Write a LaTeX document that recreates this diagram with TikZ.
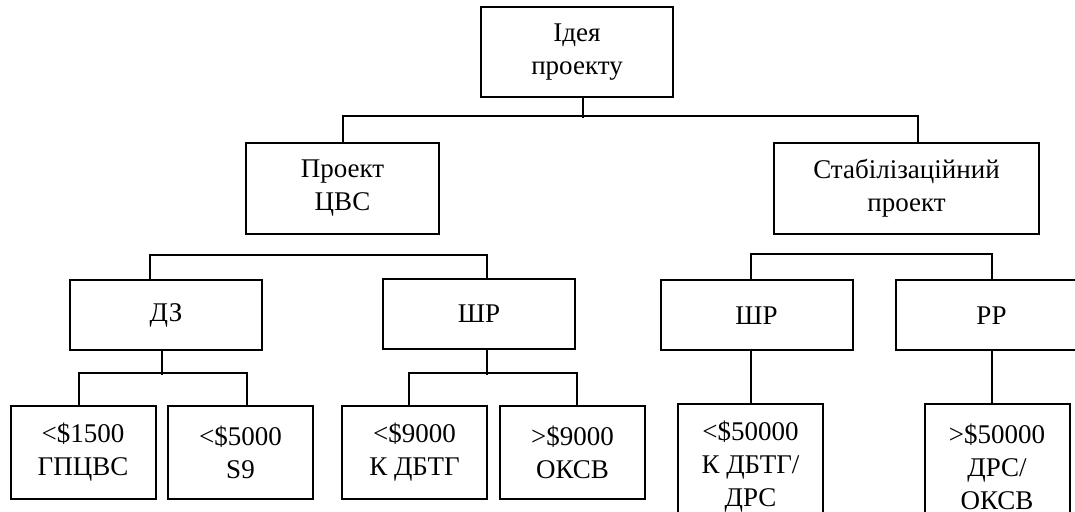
\documentclass[tikz,border=0pt]{standalone}
\usepackage{fontspec}
\setmainfont{Liberation Serif}
\begin{document}
\begin{tikzpicture}[x=0.5pt, y=-0.5pt, line width=1pt,
    box/.style={draw, rectangle, align=center, inner sep=0pt,
      font=\fontsize{13.5}{16.5}\selectfont},
    mid/.style={box, minimum width=96pt, minimum height=35pt},
    leaf/.style={box, minimum width=72.5pt, minimum height=46.5pt}]
  \useasboundingbox (0,0) rectangle (1075,512);

  % Idea
  \node[box, minimum width=96pt, minimum height=45pt] (idea) at (577,52) {Ідея\\проекту};

  % Projects
  \node[box, minimum width=96.5pt, minimum height=45.5pt] (cvs) at (342.5,188.5) {Проект\\ЦВС};
  \node[box, minimum width=132.5pt, minimum height=45.5pt] (stab) at (906.5,188.5) {Стабілізаційний\\проект};

  % Second level
  \node[mid] (dz) at (166,315) {ДЗ};
  \node[mid] (shr1) at (479,314) {ШР};
  \node[mid] (shr2) at (756.5,315.5) {ШР};
  \node[mid] (pp) at (991.5,315.5) {РР};

  % Leaves
  \foreach \n/\x/\txt in {l1/83/{<\$1500\\ГПЦВС}, l2/240.5/{<\$5000\\S9},
      l3/414.5/{<\$9000\\К ДБТГ}, l4/572.5/{>\$9000\\ОКСВ}} {
    \node[leaf] (\n) at (\x,452.5) {\txt};
  }
  \node[leaf, minimum height=62.5pt] (l5) at (750.5,466.5) {<\$50000\\К ДБТГ/\\ДРС};
  \node[leaf, minimum height=62.5pt] (l6) at (997,466.5) {>\$50000\\ДРС/\\ОКСВ};

  % Connectors
  \draw ([xshift=3pt]idea.south) -- ++(0,20);
  \draw (cvs.north) |- ([xshift=5.75pt,yshift=13pt]stab.north) -- ([xshift=5.75pt]stab.north);

  \draw ([xshift=-8pt]dz.north) |- ([xshift=4pt,yshift=11.5pt]shr1.north) -- ([xshift=4pt]shr1.north);
  \draw ([xshift=-2.75pt]shr2.north) |- ([yshift=12.5pt]pp.north) -- (pp.north);

  \draw ([xshift=-2pt]dz.south) -- ++(0,24);
  \draw ([xshift=-2pt]l1.north) |- ([xshift=3.25pt,yshift=16pt]l2.north) -- ([xshift=3.25pt]l2.north);

  \draw ([xshift=4pt]shr1.south) -- ++(0,25);
  \draw ([xshift=-2.75pt]l3.north) |- ([xshift=2pt,yshift=16pt]l4.north) -- ([xshift=2pt]l4.north);

  \draw (l5.north) -- (l5.north |- shr2.south);
  \draw (pp.south) -- (pp.south |- l6.north);
\end{tikzpicture}
\end{document}
